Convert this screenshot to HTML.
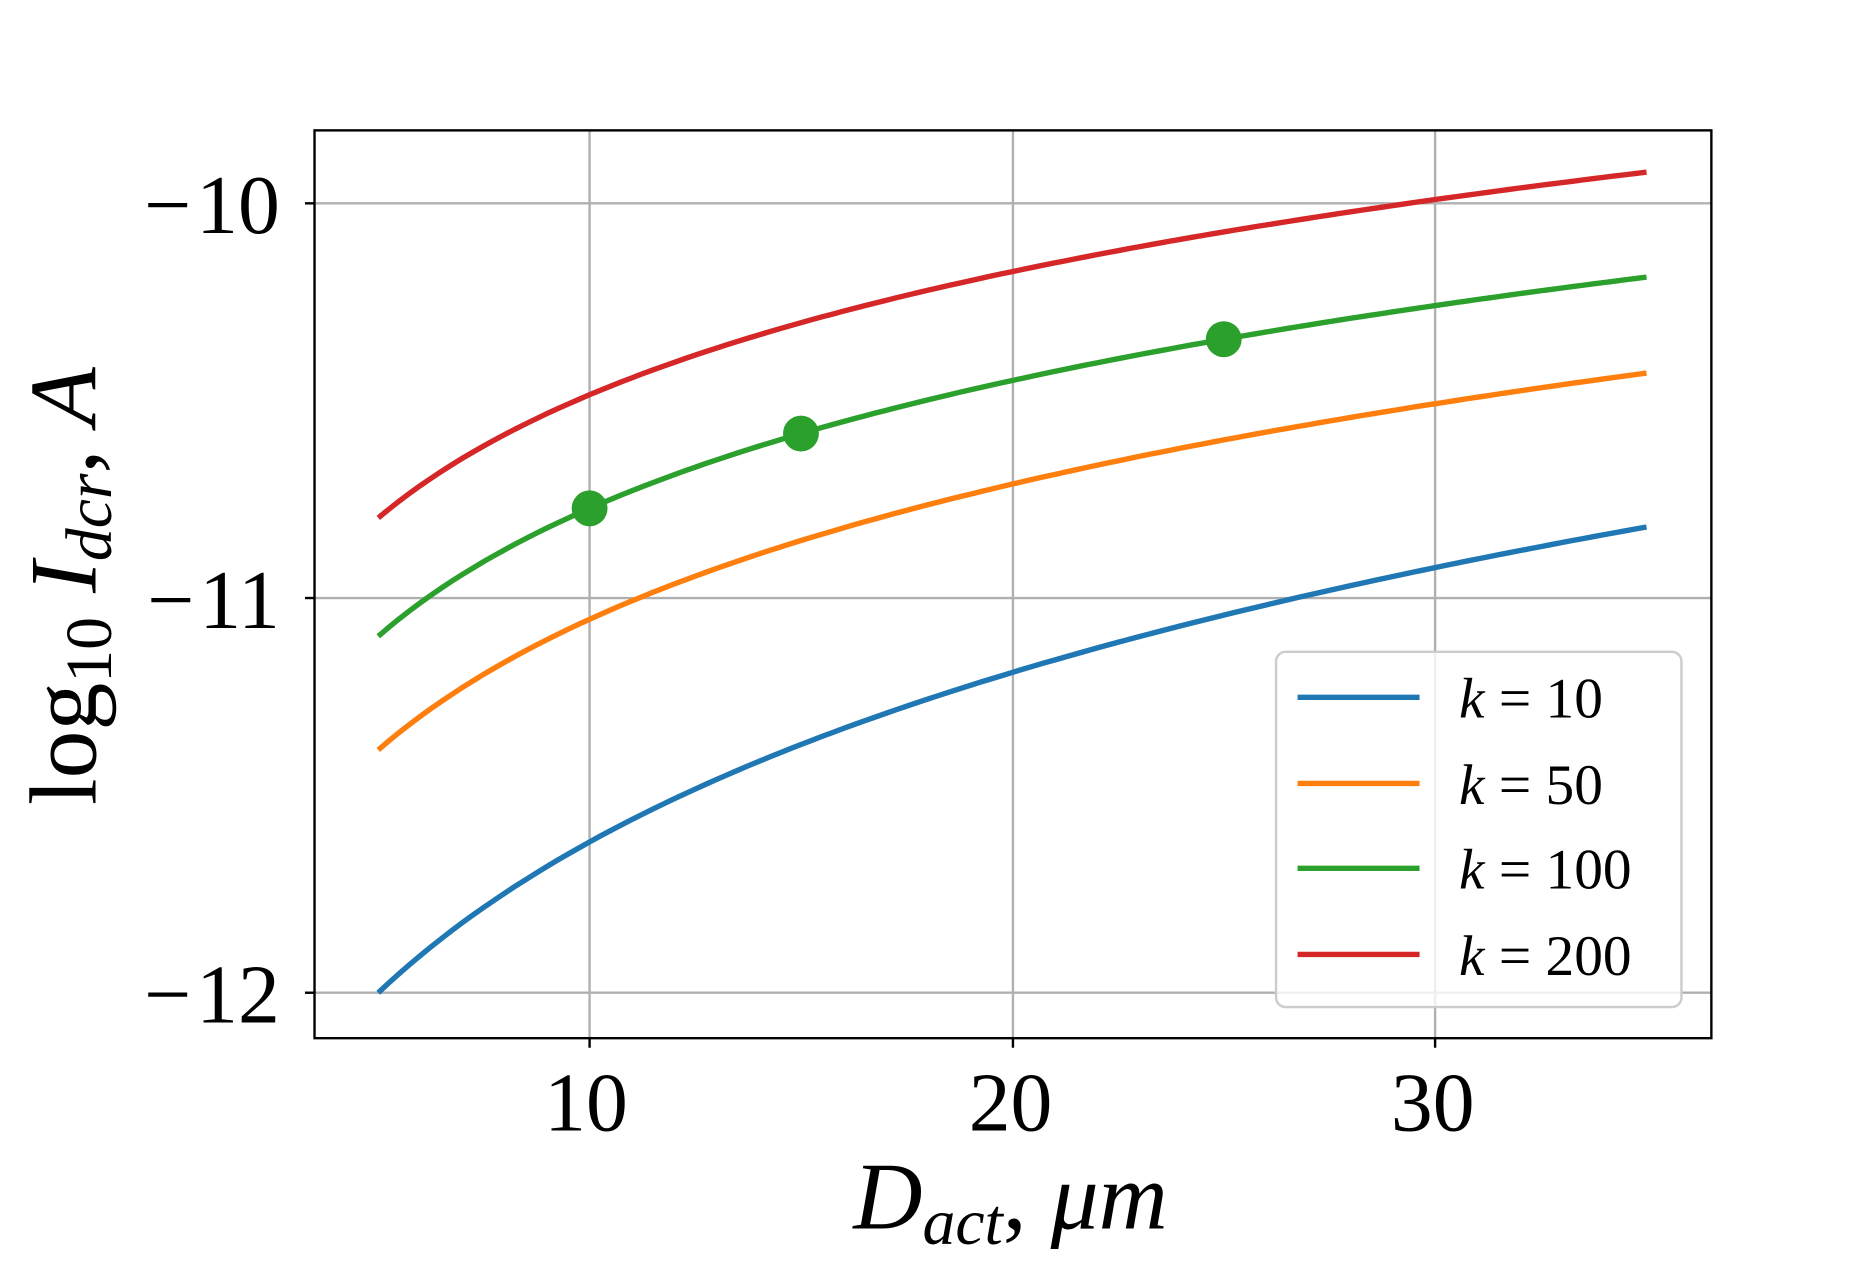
<!DOCTYPE html>
<html><head><meta charset="utf-8"><style>html,body{margin:0;padding:0;background:#fff}svg{display:block}</style></head>
<body>
<svg id="s" width="1874" height="1275" viewBox="0 0 1567 1066" preserveAspectRatio="none" xmlns="http://www.w3.org/2000/svg" font-family="Liberation Serif, serif">
<rect width="1567" height="1066" fill="#fff"/>
<g stroke="#b0b0b0" stroke-width="2">
<line x1="493" y1="109" x2="493" y2="868"/><line x1="847" y1="109" x2="847" y2="868"/><line x1="1200" y1="109" x2="1200" y2="868"/>
<line x1="263" y1="170" x2="1431" y2="170"/><line x1="263" y1="500" x2="1431" y2="500"/><line x1="263" y1="830" x2="1431" y2="830"/>
</g>
<g id="curves" fill="none" stroke-width="4.5"></g>
<rect x="263" y="109" width="1168" height="759" fill="none" stroke="#000" stroke-width="2"/>
<g stroke="#000" stroke-width="2"><line x1="493" y1="868" x2="493" y2="876"/><line x1="847" y1="868" x2="847" y2="876"/><line x1="1200" y1="868" x2="1200" y2="876"/>
<line x1="255" y1="170" x2="263" y2="170"/><line x1="255" y1="500" x2="263" y2="500"/><line x1="255" y1="830" x2="263" y2="830"/></g>
<g font-size="70" text-anchor="middle"><text x="490" y="945">10</text><text x="845" y="945">20</text><text x="1198" y="945">30</text></g>
<g font-size="70" text-anchor="end"><text x="234" y="195">−<tspan dx="4">10</tspan></text><text x="234" y="525">−<tspan dx="4">11</tspan></text><text x="234" y="855">−<tspan dx="4">12</tspan></text></g>
<text x="845" y="1027" font-size="80" text-anchor="middle" font-style="italic">D<tspan font-size="55" dy="13">act</tspan><tspan dy="-13" font-style="normal">,  </tspan> μm</text>
<text transform="translate(80,490) rotate(-90)" font-size="80" text-anchor="middle"><tspan>log</tspan><tspan font-size="55" dy="13">10</tspan><tspan dy="-13" font-style="italic"> I</tspan><tspan font-size="55" dy="13" font-style="italic">dcr</tspan><tspan dy="-13">,  </tspan><tspan font-style="italic"> A</tspan></text>
<rect x="1067" y="545" width="339" height="297" rx="8" fill="#fff" fill-opacity="0.8" stroke="#ccc" stroke-width="2"/>
<g stroke-width="4.5"><line x1="1085" y1="583" x2="1187" y2="583" stroke="#1f77b4"/><line x1="1085" y1="655" x2="1187" y2="655" stroke="#ff7f0e"/><line x1="1085" y1="726" x2="1187" y2="726" stroke="#2ca02c"/><line x1="1085" y1="798" x2="1187" y2="798" stroke="#d62728"/></g>
<g font-size="48"><text x="1220" y="600"><tspan font-style="italic">k</tspan> = 10</text><text x="1220" y="672"><tspan font-style="italic">k</tspan> = 50</text><text x="1220" y="743"><tspan font-style="italic">k</tspan> = 100</text><text x="1220" y="815"><tspan font-style="italic">k</tspan> = 200</text></g>
</svg>
<script>
var X=function(d){return 493+(d-10)*35.35},Y=function(v){return 170-(v+10)*330};
var c=[["#1f77b4",-12,1.18,2],["#ff7f0e",-11.385,0.955,0.5],["#2ca02c",-11.097,0.91,0],["#d62728",-10.797,0.876,0]];
var g=document.getElementById('curves'),h='';
function f(k,d){var o=c[k][3];return c[k][1]+c[k][2]*Math.log((d+o)/(5+o))/Math.log((35+o)/(5+o));}
c.forEach(function(s,k){var p=[];for(var d=5;d<=35.001;d+=0.25)p.push(X(d).toFixed(1)+','+Y(f(k,d)).toFixed(1));h+='<polyline stroke="'+s[0]+'" points="'+p.join(' ')+'"/>';});
[10,15,25].forEach(function(d){h+='<circle cx="'+X(d)+'" cy="'+Y(f(2,d))+'" r="15" fill="#2ca02c" stroke="none"/>';});
g.innerHTML=h;
</script>
</body></html>
